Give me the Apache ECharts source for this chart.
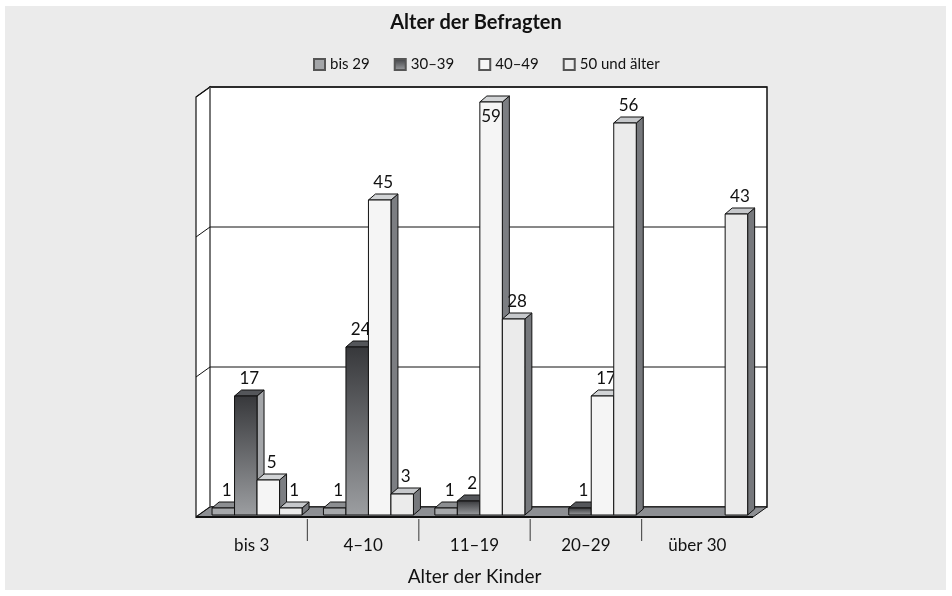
<!DOCTYPE html>
<html>
<head>
<meta charset="utf-8">
<script src="https://cdn.jsdelivr.net/npm/echarts@6/dist/echarts.min.js"></script>
<style>html,body{margin:0;padding:0;background:#fff}#c{width:952px;height:596px}</style>
</head>
<body>
<div id="c"></div>
<script>
var categories = ['bis 3', '4–10', '11–19', '20–29', 'über 30'];
var seriesNames = ['bis 29', '30–39', '40–49', '50 und älter'];
var bis29 = [1, 1, 1, 0, 0];
var s30_39 = [17, 24, 2, 1, 0];
var s40_49 = [5, 45, 59, 17, 0];
var s50plus = [1, 3, 28, 56, 43];
var gridValues = [20, 40, 60];

var FONT = 'Lato';
var WDX = 14, WDY = -10;   // wall depth
var BDX = 7, BDY = -6;     // bar depth

var styles = [
  { front: '#a6a8ab', top: '#8c8e91', side: '#7f8185', legend: '#a3a5a8' },
  { front: new echarts.graphic.LinearGradient(0, 0, 0, 1, [{offset: 0, color: '#37383b'}, {offset: 1, color: '#9c9ea1'}]),
    top: '#54565a', side: '#a4a6a9',
    legend: new echarts.graphic.LinearGradient(0, 0, 0, 1, [{offset: 0, color: '#3a3b3e'}, {offset: 1, color: '#a0a2a5'}]) },
  { front: '#f5f5f5', top: '#d2d4d6', side: '#7c7e82', legend: '#f5f5f5' },
  { front: '#ebebeb', top: '#c6c8cb', side: '#76787c', legend: '#ececec' }
];

function makeBarRenderer(si) {
  var st = styles[si];
  return function (params, api) {
    var cat = api.value(0), val = api.value(1);
    if (!val) return { type: 'group', children: [] };
    var c0 = api.coord([cat, 0]);
    var c1 = api.coord([cat, val]);
    var w = api.size([1, 0])[0];
    var catStart = c0[0] - w / 2;
    var bw = w * 0.202;
    var x0 = catStart + w * 0.135 + si * bw + 1;
    var x1 = x0 + bw;
    var yb = c0[1] - 2, yt = c1[1] - 2;
    var wallTop = api.coord([0, 60])[1] + WDY;
    var lineStyle = { stroke: '#111', lineWidth: 1 };
    var children = [
      { type: 'polygon', shape: { points: [[x1, yt], [x1 + BDX, yt + BDY], [x1 + BDX, yb + BDY], [x1, yb]] },
        style: Object.assign({ fill: st.side }, lineStyle) },
      { type: 'polygon', shape: { points: [[x0, yt], [x0 + BDX, yt + BDY], [x1 + BDX, yt + BDY], [x1, yt]] },
        style: Object.assign({ fill: st.top }, lineStyle) },
      { type: 'rect', shape: { x: x0, y: yt, width: bw, height: yb - yt },
        style: Object.assign({ fill: st.front }, lineStyle) }
    ];
    var labelBottom = yt + BDY - 3;
    var inside = labelBottom - 17 < wallTop;
    children.push({
      type: 'text',
      style: {
        text: String(val),
        x: inside ? (x0 + bw / 2) : (x0 + bw / 2 + BDX / 2),
        y: inside ? yt + 6 : labelBottom,
        align: 'center',
        verticalAlign: inside ? 'top' : 'bottom',
        fill: '#111',
        font: '17px ' + FONT
      }
    });
    return { type: 'group', children: children };
  };
}

function frameRenderer(params, api) {
  var cs = params.coordSys;
  var L = cs.x, R = cs.x + cs.width, T = cs.y, B = cs.y + cs.height;
  var w = api.size([1, 0])[0];
  var ch = [];
  ch.push({ type: 'rect', shape: { x: L + WDX, y: T + WDY, width: R - L, height: B - T },
    style: { fill: '#fff', stroke: '#111', lineWidth: 1.5 } });
  ch.push({ type: 'polygon', shape: { points: [[L, T], [L + WDX, T + WDY], [L + WDX, B + WDY], [L, B]] },
    style: { fill: '#fff', stroke: '#111', lineWidth: 1.2 } });
  ch.push({ type: 'line', shape: { x1: L + WDX, y1: T + WDY, x2: L + WDX, y2: B + WDY },
    style: { stroke: '#777', lineWidth: 2 } });
  gridValues.forEach(function (v) {
    var y = api.coord([0, v])[1];
    ch.push({ type: 'line', shape: { x1: L + WDX, y1: y + WDY, x2: R + WDX, y2: y + WDY },
      style: { stroke: '#111', lineWidth: 1 } });
    ch.push({ type: 'line', shape: { x1: L, y1: y, x2: L + WDX, y2: y + WDY },
      style: { stroke: '#111', lineWidth: 1 } });
  });
  ch.push({ type: 'polygon', shape: { points: [[L, B], [L + WDX, B + WDY], [R + WDX, B + WDY], [R, B]] },
    style: { fill: '#8d8f93', stroke: '#111', lineWidth: 1 } });
  ch.push({ type: 'line', shape: { x1: L, y1: B, x2: R, y2: B }, style: { stroke: '#111', lineWidth: 2 } });
  for (var i = 1; i < categories.length; i++) {
    var x = api.coord([i, 0])[0] - w / 2;
    ch.push({ type: 'line', shape: { x1: x, y1: B + 2, x2: x, y2: B + 24 },
      style: { stroke: '#555', lineWidth: 1.2 } });
  }
  return { type: 'group', children: ch };
}

var seriesData = [bis29, s30_39, s40_49, s50plus];

var series = [{
  type: 'custom', name: 'frame', silent: true, z: 1,
  renderItem: frameRenderer,
  data: [[0, 0]],
  encode: { x: 0, y: 1 }
}];
seriesData.forEach(function (arr, si) {
  series.push({
    type: 'custom',
    name: seriesNames[si],
    z: 2 + si,
    renderItem: makeBarRenderer(si),
    itemStyle: { color: styles[si].legend, borderColor: '#555', borderWidth: 1 },
    data: arr.map(function (v, i) { return [i, v]; }),
    encode: { x: 0, y: 1 }
  });
});

var chart = echarts.init(document.getElementById('c'), null, { renderer: 'canvas' });
chart.setOption({
  backgroundColor: '#fff',
  animation: false,
  graphic: [{ type: 'rect', z: -10, silent: true, shape: { x: 5, y: 6, width: 941, height: 584 }, style: { fill: '#ebebeb' } }],
  title: {
    text: 'Alter der Befragten', left: 'center', top: 8,
    textStyle: { fontFamily: FONT, fontSize: 20, fontWeight: 'bold', color: '#111' }
  },
  legend: {
    data: seriesNames, top: 52, left: 308,
    icon: 'rect', itemWidth: 11, itemHeight: 11, itemGap: 24,
    textStyle: { fontFamily: FONT, fontSize: 15, color: '#111' },
    selectedMode: false
  },
  grid: { left: 196, right: 199, top: 97, bottom: 79, containLabel: false },
  xAxis: {
    type: 'category', data: categories, boundaryGap: true,
    axisLine: { show: false }, axisTick: { show: false }, splitLine: { show: false },
    axisLabel: { fontFamily: FONT, fontSize: 17, color: '#111', margin: 20 },
    name: 'Alter der Kinder', nameLocation: 'middle', nameGap: 50,
    nameTextStyle: { fontFamily: FONT, fontSize: 19, color: '#111' }
  },
  yAxis: { type: 'value', min: 0, max: 60, interval: 20, show: false },
  series: series
});
</script>
</body>
</html>
